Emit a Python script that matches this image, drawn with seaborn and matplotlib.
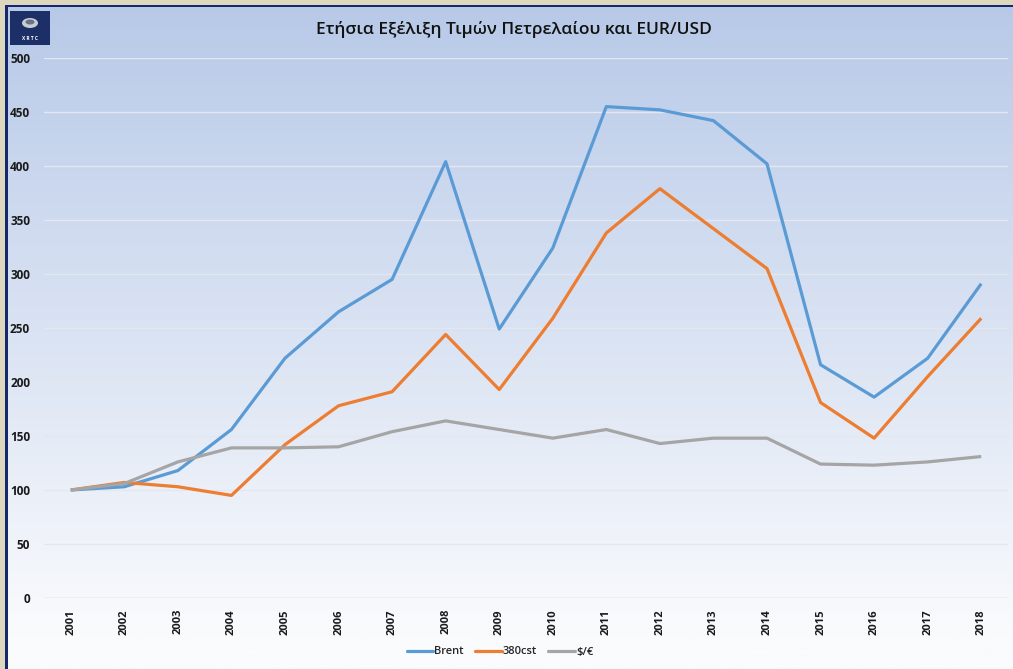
import numpy as np
import pandas as pd
import matplotlib
matplotlib.use("Agg")
import matplotlib.pyplot as plt
import seaborn as sns
from matplotlib.patches import Rectangle, Ellipse
from matplotlib.lines import Line2D

years = list(range(2001, 2019))
brent = [100, 103, 118, 156, 222, 265, 295, 404, 249, 324, 455, 452, 442, 402, 216, 186, 222, 291]
cst380 = [100, 107, 103, 95, 142, 178, 191, 244, 193, 259, 338, 379, 342, 305, 181, 148, 205, 259]
usd_eur = [100, 106, 126, 139, 139, 140, 154, 164, 156, 148, 156, 143, 148, 148, 124, 123, 126, 131]
series_names = ["Brent", "380cst", "$/€"]
colors = ["#5b9bd5", "#ed7d31", "#a5a5a5"]
title = "Ετήσια Εξέλιξη Τιμών Πετρελαίου και EUR/USD"
yticks = list(range(0, 501, 50))

df = pd.DataFrame({
    "year": years * 3,
    "value": brent + cst380 + usd_eur,
    "series": [series_names[0]] * 18 + [series_names[1]] * 18 + [series_names[2]] * 18,
})

sns.set_theme(style="white")
plt.rcParams["font.family"] = ["Open Sans", "DejaVu Sans"]

W, H = 1013, 669
fig = plt.figure(figsize=(W / 100, H / 100), dpi=100)

# background gradient
bg = fig.add_axes([0, 0, 1, 1], zorder=0)
top = np.array([183, 201, 232]) / 255
bot = np.array([250, 251, 253]) / 255
t = np.linspace(0, 1, 256)[:, None]
t = np.clip(t * 1.05, 0, 1)
grad = top[None, :] * (1 - t) + bot[None, :] * t
grad = np.repeat(grad[:, None, :], 2, axis=1)
bg.imshow(grad, aspect="auto", extent=[0, 1, 0, 1], origin="upper")
bg.set_xlim(0, 1); bg.set_ylim(0, 1)
bg.axis("off")
# beige border and navy line (top/left)
beige = "#ddd7bd"
navy = "#14286e"
bg.add_patch(Rectangle((0, 1 - 5 / H), 1, 5 / H, color=beige, lw=0))
bg.add_patch(Rectangle((0, 0), 5 / W, 1, color=beige, lw=0))
bg.add_patch(Rectangle((5 / W, 1 - 7 / H), 1, 2.5 / H, color=navy, lw=0))
bg.add_patch(Rectangle((5 / W, 0), 2.5 / W, 1 - 5 / H, color=navy, lw=0))
# logo
bg.add_patch(Rectangle((10 / W, 1 - 45 / H), 40 / W, 34 / H, color="#1c2f66", lw=0))
bg.add_patch(Ellipse((30 / W, 1 - 23 / H), 16 / W, 10 / H, color="#c8ccd4", lw=0))
bg.add_patch(Ellipse((30 / W, 1 - 22 / H), 9 / W, 5 / H, color="#6b7283", lw=0))
bg.text(30 / W, 1 - 39 / H, "X R T C", color="white", fontsize=3.5, ha="center", va="center", fontweight="bold")

ax = fig.add_axes([44 / W, (H - 598) / H, 964 / W, 540 / H], zorder=1)
ax.patch.set_alpha(0)
sns.lineplot(data=df, x="year", y="value", hue="series", palette=colors,
             linewidth=2.3, ax=ax, legend=False)
ax.set_xlim(2000.5, 2018.5)
ax.set_ylim(0, 500)
ax.set_yticks(yticks)
ax.set_yticklabels([str(v) for v in yticks], fontsize=8.5, fontweight="bold", color="#1a1a1a")
ax.set_xticks(years)
ax.set_xticklabels([str(y) for y in years], rotation=90, fontsize=8, fontweight="bold", color="#1a1a1a")
ax.tick_params(axis="both", length=0)
ax.tick_params(axis="y", pad=10)
ax.tick_params(axis="x", pad=8)
ax.set_xlabel(""); ax.set_ylabel("")
for s in ax.spines.values():
    s.set_visible(False)
ax.grid(axis="y", color="#e4e7ee", linewidth=1.0)
ax.axhline(0, color="#d4d4d4", linewidth=1.0, zorder=0)
for l in ax.get_lines():
    l.set_solid_capstyle("butt")

fig.text(514 / W, 1 - 30 / H, title, ha="center", va="center", fontsize=12.5,
         fontweight="semibold", color="#111111")

handles = [Line2D([0], [0], color=c, lw=2.3) for c in colors]
fig.legend(handles, series_names, loc="center", bbox_to_anchor=(500 / W, 1 - 652 / H),
           ncol=3, frameon=False, handlelength=2.4, handletextpad=0.1,
           columnspacing=1.0, prop={"weight": "semibold", "size": 8})

fig.savefig("out.png", dpi=100)
